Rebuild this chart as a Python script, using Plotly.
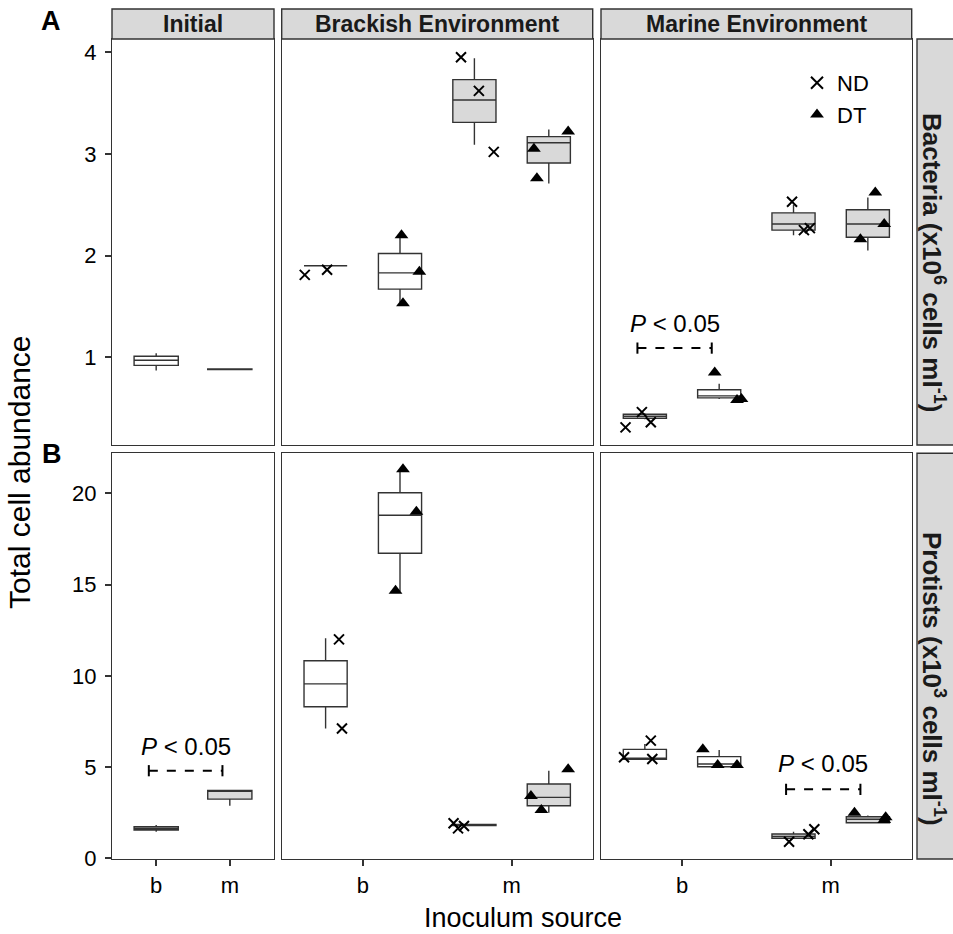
import plotly.graph_objects as go
from plotly.subplots import make_subplots

W, H = 953, 934
FONT = "Liberation Sans, Arial, sans-serif"

environments = ["Initial", "Brackish Environment", "Marine Environment"]
sources = ["b", "m"]
treatments = ["ND", "DT"]
row_labels = ["Bacteria (x10<sup>6</sup> cells ml<sup>-1</sup>)",
              "Protists (x10<sup>3</sup> cells ml<sup>-1</sup>)"]

# box stats: [lower whisker, q1, median, q3, upper whisker]
bac_initial = {"b": [0.87, 0.92, 0.97, 1.01, 1.04],
               "m": [0.875, 0.878, 0.88, 0.884, 0.89]}
bac_brackish = {("b", "ND"): [1.90, 1.90, 1.90, 1.90, 1.90],
                ("b", "DT"): [1.54, 1.67, 1.83, 2.02, 2.22],
                ("m", "ND"): [3.09, 3.31, 3.53, 3.73, 3.94],
                ("m", "DT"): [2.71, 2.91, 3.11, 3.17, 3.24]}
bac_marine = {("b", "ND"): [0.39, 0.40, 0.42, 0.44, 0.45],
              ("b", "DT"): [0.59, 0.60, 0.62, 0.68, 0.74],
              ("m", "ND"): [2.20, 2.25, 2.31, 2.42, 2.50],
              ("m", "DT"): [2.05, 2.18, 2.31, 2.45, 2.57]}
pro_initial = {"b": [1.46, 1.55, 1.63, 1.73, 1.83],
               "m": [2.88, 3.24, 3.68, 3.72, 3.72]}
pro_brackish = {("b", "ND"): [7.11, 8.31, 9.56, 10.83, 12.06],
                ("b", "DT"): [14.62, 16.72, 18.80, 20.04, 21.29],
                ("m", "ND"): [1.78, 1.80, 1.83, 1.86, 1.88],
                ("m", "DT"): [2.50, 2.88, 3.34, 4.07, 4.80]}
pro_marine = {("b", "ND"): [5.43, 5.43, 5.48, 5.97, 6.27],
              ("b", "DT"): [5.02, 5.02, 5.17, 5.57, 5.94],
              ("m", "ND"): [1.05, 1.10, 1.20, 1.33, 1.45],
              ("m", "DT"): [1.95, 1.95, 2.14, 2.28, 2.35]}

# replicate points
bac_brackish_pts = {("b", "ND"): [1.81, 1.86],
                    ("b", "DT"): [2.20, 1.84, 1.53],
                    ("m", "ND"): [3.95, 3.62, 3.02],
                    ("m", "DT"): [3.22, 3.05, 2.76]}
bac_marine_pts = {("b", "ND"): [0.31, 0.46, 0.36],
                  ("b", "DT"): [0.85, 0.58, 0.59],
                  ("m", "ND"): [2.53, 2.25, 2.27],
                  ("m", "DT"): [2.62, 2.31, 2.16]}
pro_brackish_pts = {("b", "ND"): [12.0, 7.11],
                    ("b", "DT"): [21.33, 19.0, 14.67],
                    ("m", "ND"): [1.92, 1.64, 1.77],
                    ("m", "DT"): [4.88, 3.42, 2.65]}
pro_marine_pts = {("b", "ND"): [6.45, 5.54, 5.44],
                  ("b", "DT"): [5.97, 5.11, 5.11],
                  ("m", "ND"): [0.91, 1.32, 1.59],
                  ("m", "DT"): [2.50, 2.10, 2.25]}

# horizontal jitter of the points
bac_brackish_jit = {("b", "ND"): [-0.14, 0.01], ("b", "DT"): [0.01, 0.13, 0.02],
                    ("m", "ND"): [-0.09, 0.03, 0.13], ("m", "DT"): [0.13, -0.10, -0.08]}
bac_marine_jit = {("b", "ND"): [-0.13, -0.02, 0.04], ("b", "DT"): [-0.03, 0.12, 0.15],
                  ("m", "ND"): [-0.01, 0.07, 0.11], ("m", "DT"): [0.05, 0.11, -0.05]}
pro_brackish_jit = {("b", "ND"): [0.09, 0.11], ("b", "DT"): [0.02, 0.11, -0.03],
                    ("m", "ND"): [-0.14, -0.11, -0.07], ("m", "DT"): [0.13, -0.12, -0.05]}
pro_marine_jit = {("b", "ND"): [0.04, -0.14, 0.05], ("b", "DT"): [-0.11, -0.01, 0.12],
                  ("m", "ND"): [-0.03, 0.10, 0.14], ("m", "DT"): [-0.09, 0.11, 0.12]}

# significance brackets: (row, col, group from, group to, bracket y, text y)
sig_marks = [(1, 3, ("b", "ND"), ("b", "DT"), 1.09, 1.335),
             (2, 1, "b", "m", 4.80, 6.12),
             (2, 3, ("m", "ND"), ("m", "DT"), 3.78, 5.21)]

y_ranges = [[0.137, 4.13], [-0.04, 22.2]]
y_dticks = [1, 5]

fills = {"b": "white", "m": "#d9d9d9"}
dodge = {"ND": -0.25, "DT": 0.25}
markers = {"ND": dict(symbol="x-thin", size=10, line=dict(width=2, color="black"), color="black"),
           "DT": dict(symbol="triangle-up", size=12, color="black")}

col_px = [(112, 274), (281.7, 592.7), (601, 911.7)]
row_px = [(39, 445), (453.3, 859)]


def px_x(x):
    return x / W


def px_y(y):
    return 1 - y / H


def pos(group):
    if isinstance(group, tuple):
        return sources.index(group[0]) + 1 + dodge[group[1]]
    return sources.index(group) + 1


def paper_text(x, y, text, size, bold=False, angle=0, color="black"):
    fig.add_annotation(x=px_x(x), y=px_y(y), xref="paper", yref="paper",
                       xanchor="center", yanchor="middle", textangle=angle,
                       text="<b>%s</b>" % text if bold else text, showarrow=False,
                       font=dict(size=size, color=color, family=FONT))


fig = make_subplots(rows=2, cols=3)

panels = [[bac_initial, bac_brackish, bac_marine], [pro_initial, pro_brackish, pro_marine]]
points = [[None, bac_brackish_pts, bac_marine_pts], [None, pro_brackish_pts, pro_marine_pts]]
jitters = [[None, bac_brackish_jit, bac_marine_jit], [None, pro_brackish_jit, pro_marine_jit]]

shown = set()
for r in range(2):
    for c in range(3):
        stats = panels[r][c]
        width = 0.6 if c == 0 else 0.29
        for g, s in stats.items():
            src = g[0] if isinstance(g, tuple) else g
            fig.add_trace(go.Box(
                x=[pos(g)], lowerfence=[s[0]], q1=[s[1]], median=[s[2]], q3=[s[3]], upperfence=[s[4]],
                width=width, fillcolor=fills[src], line=dict(color="#333333", width=1.4),
                whiskerwidth=0, boxpoints=False, showlegend=False, hoverinfo="skip",
            ), row=r + 1, col=c + 1)
        if points[r][c] is None:
            continue
        for g, vals in points[r][c].items():
            trt = g[1]
            xs = [pos(g) + j for j in jitters[r][c][g]]
            fig.add_trace(go.Scatter(
                x=xs, y=vals, mode="markers", marker=markers[trt], name=trt,
                legendgroup=trt, showlegend=trt not in shown, hoverinfo="skip",
            ), row=r + 1, col=c + 1)
            shown.add(trt)

# P < 0.05 brackets
for r, c, g1, g2, yb, yt in sig_marks:
    shift = -0.1 if c == 1 else -0.05
    x1, x2 = pos(g1) + shift, pos(g2) + shift
    fig.add_trace(go.Scatter(
        x=[x1, x2], y=[yb, yb], mode="lines+markers",
        line=dict(color="black", width=2, dash="dash"),
        marker=dict(symbol="line-ns-open", size=8, line=dict(width=2, color="black")),
        showlegend=False, hoverinfo="skip",
    ), row=r, col=c)
    fig.add_annotation(x=(x1 + x2) / 2, y=yt, text="<i>P</i> < 0.05", showarrow=False,
                       xanchor="center", yanchor="middle",
                       font=dict(size=24, color="black", family=FONT), row=r, col=c)

axis_style = dict(showline=True, mirror=True, linecolor="#333333", linewidth=1.4,
                  showgrid=False, zeroline=False, tickcolor="#333333", tickwidth=1.5,
                  ticklen=6, automargin=False,
                  tickfont=dict(size=22, color="black", family=FONT))

for r in range(2):
    for c in range(3):
        xr = [0.4, 2.6] if c == 0 else [0.455, 2.545]
        fig.update_xaxes(domain=[px_x(col_px[c][0]), px_x(col_px[c][1])], range=xr,
                         tickvals=[1, 2], ticktext=sources,
                         ticks="outside" if r == 1 else "", showticklabels=(r == 1),
                         **axis_style, row=r + 1, col=c + 1)
        fig.update_yaxes(domain=[px_y(row_px[r][1]), px_y(row_px[r][0])], range=y_ranges[r],
                         dtick=y_dticks[r], ticks="outside" if c == 0 else "",
                         showticklabels=(c == 0), ticklabelstandoff=4,
                         **axis_style, row=r + 1, col=c + 1)

# facet strips
shapes = []
for c, env in enumerate(environments):
    shapes.append(dict(type="rect", xref="paper", yref="paper",
                       x0=px_x(col_px[c][0]), x1=px_x(col_px[c][1]), y0=px_y(39), y1=px_y(9),
                       fillcolor="#d9d9d9", line=dict(color="#333333", width=1.4)))
    paper_text((col_px[c][0] + col_px[c][1]) / 2, 24, env, 23, bold=True, color="#1a1a1a")
text_centers = [262, 679]
for r in range(2):
    shapes.append(dict(type="rect", xref="paper", yref="paper",
                       x0=px_x(917), x1=px_x(962), y0=px_y(row_px[r][1]), y1=px_y(row_px[r][0]),
                       fillcolor="#d9d9d9", line=dict(color="#333333", width=1.4)))
    paper_text(934, text_centers[r], row_labels[r], 26, bold=True, angle=90, color="#1a1a1a")

paper_text(51, 21, "A", 27, bold=True)
paper_text(52, 454, "B", 27, bold=True)
paper_text(19, 472, "Total cell abundance", 30, angle=-90)
paper_text(523, 918, "Inoculum source", 27)

fig.update_layout(
    width=W, height=H, margin=dict(l=0, r=0, t=0, b=0, autoexpand=False),
    paper_bgcolor="white", plot_bgcolor="white",
    boxmode="overlay", shapes=shapes,
    font=dict(family=FONT, color="black"),
    legend=dict(x=px_x(797), y=px_y(62), xanchor="left", yanchor="top",
                bgcolor="rgba(0,0,0,0)", font=dict(size=22, family=FONT, color="black"),
                itemsizing="constant", tracegroupgap=0),
)

fig.write_html("out.html", config={"displayModeBar": False},
               post_script="document.body.style.margin='0';")
